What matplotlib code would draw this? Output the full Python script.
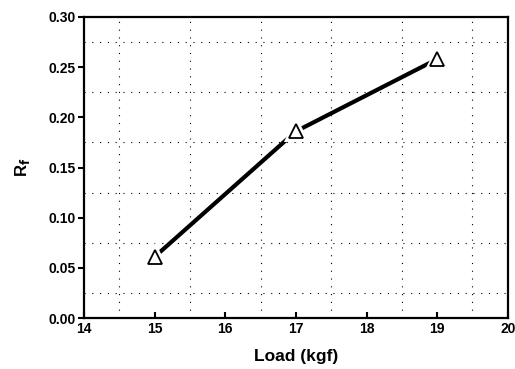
import matplotlib
matplotlib.use("Agg")
import matplotlib.pyplot as plt
import matplotlib.patheffects as pe
from matplotlib.ticker import MultipleLocator

# data
load = [15, 17, 19]
rf = [0.061, 0.186, 0.258]

plt.rcParams['font.family'] = ['Liberation Sans', 'DejaVu Sans']
plt.rcParams['font.weight'] = 'bold'

fig = plt.figure(figsize=(5.15, 3.69), dpi=100)
ax = fig.add_axes([0.163, 0.138, 0.823, 0.816])

ax.plot(load, rf, color='black', linewidth=3, zorder=3)
# white halo around the markers so the line stops short of them
ax.plot(load, rf, linestyle='none', marker='^', markersize=10,
        markerfacecolor='white', markeredgecolor='black', markeredgewidth=1.3,
        zorder=4,
        path_effects=[pe.Stroke(linewidth=5, foreground='white'), pe.Normal()])

ax.set_xlim(14, 20)
ax.set_ylim(0, 0.30)
ax.xaxis.set_major_locator(MultipleLocator(1))
ax.xaxis.set_minor_locator(MultipleLocator(0.5))
ax.yaxis.set_major_locator(MultipleLocator(0.05))
ax.yaxis.set_minor_locator(MultipleLocator(0.025))
ax.set_yticklabels([f"{v:.2f}" for v in ax.get_yticks()])

ax.grid(which='minor', color='black', linestyle=(0, (1, 6)), linewidth=0.8)
ax.tick_params(axis='x', which='major', direction='in', length=4, width=1.5, labelsize=10, pad=3)
ax.tick_params(axis='y', which='major', direction='out', length=4, width=1.5, labelsize=10, pad=2)
ax.tick_params(which='minor', length=0)
for sp in ax.spines.values():
    sp.set_linewidth(1.6)

ax.set_xlabel("Load (kgf)", fontsize=12.5, fontweight='bold', labelpad=9)
ax.set_ylabel(r"R$_\mathbf{f}$", fontsize=12, fontweight='bold', labelpad=12)

fig.savefig("out.png", dpi=100)
